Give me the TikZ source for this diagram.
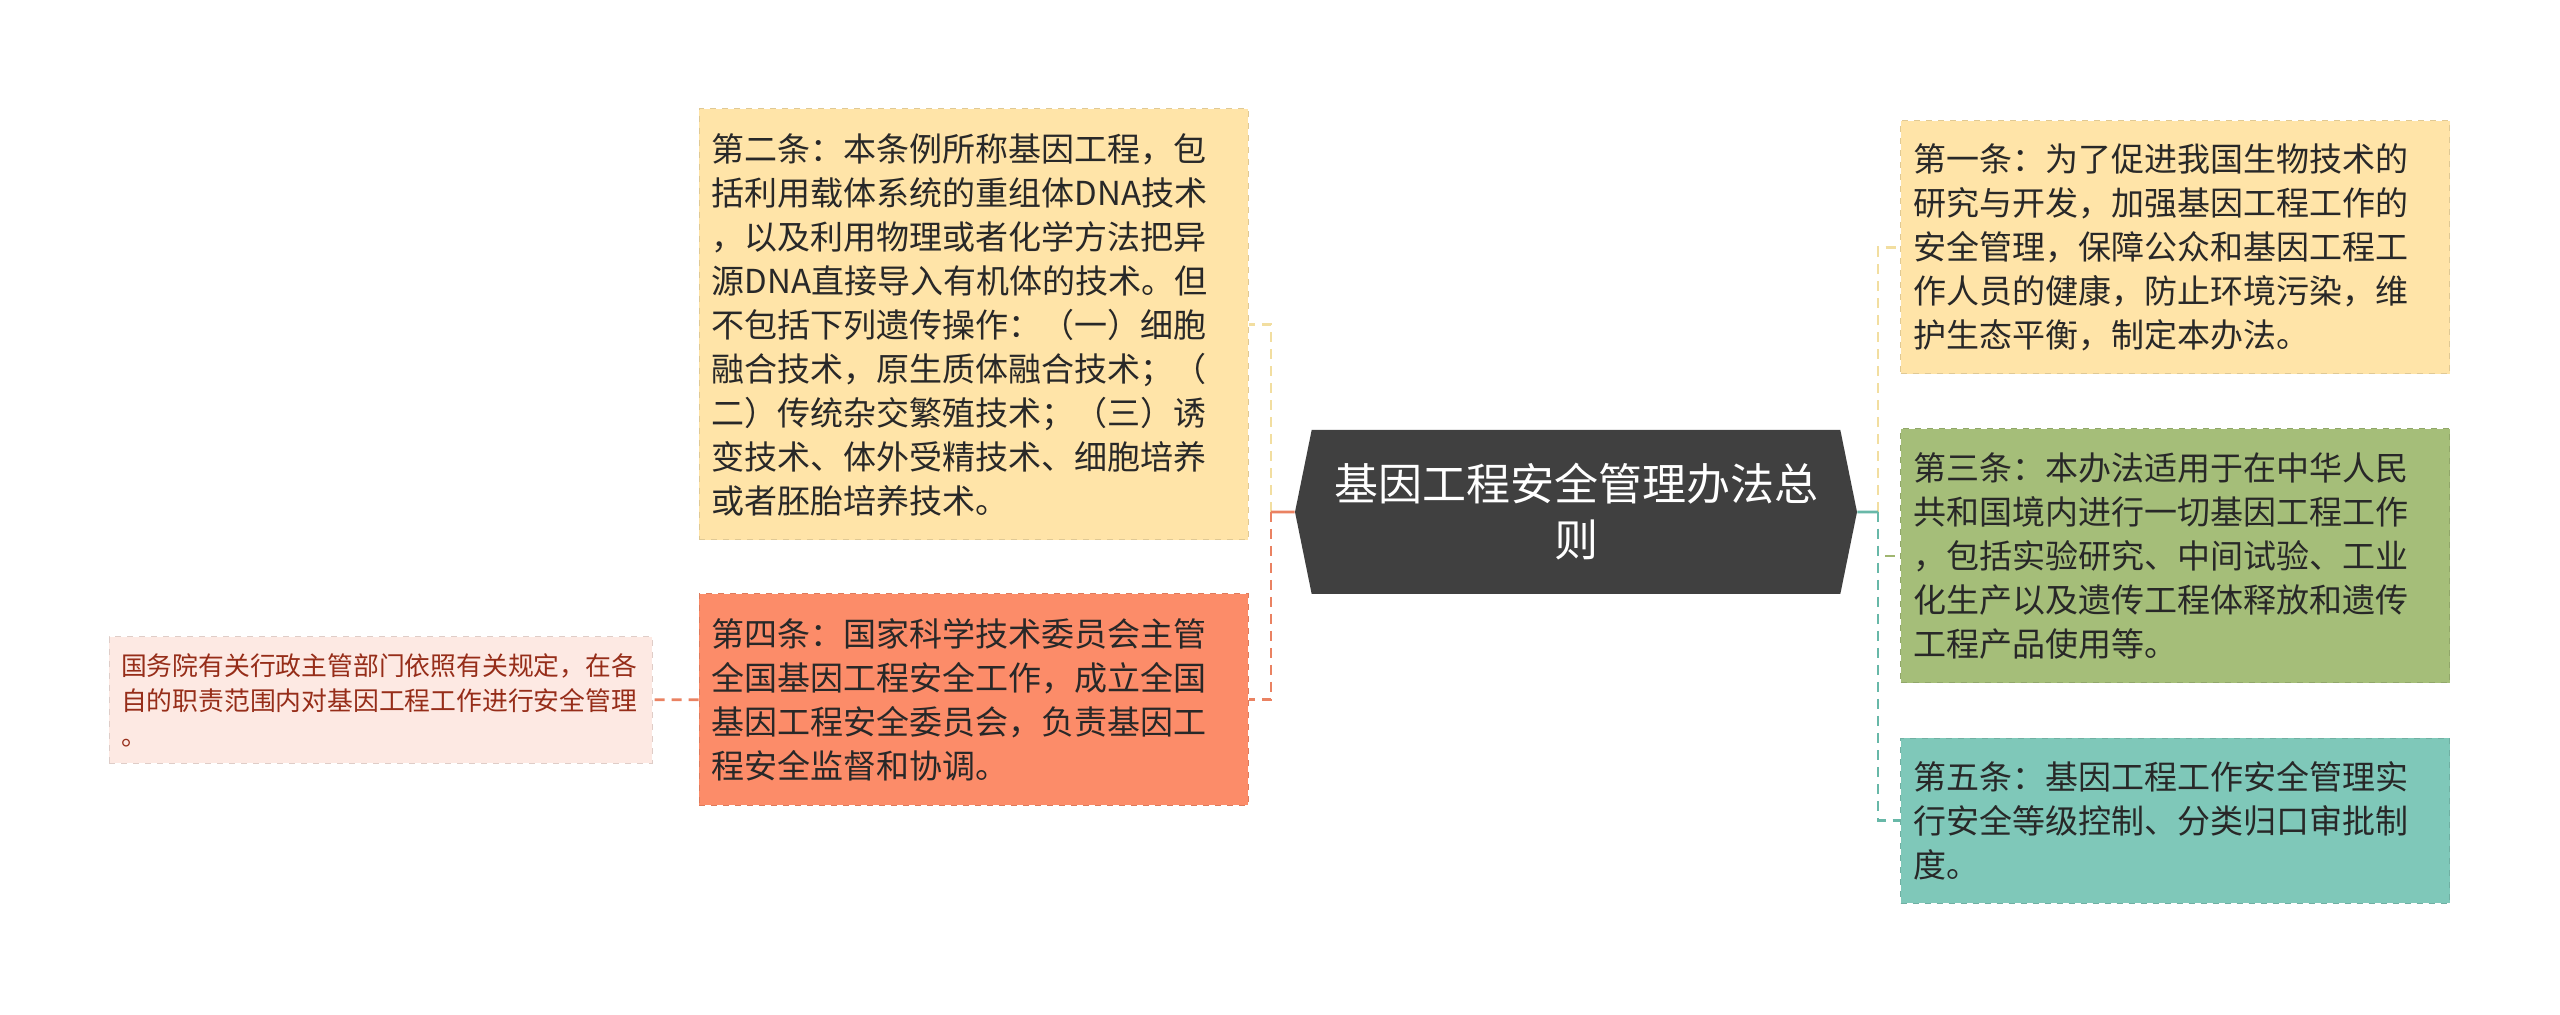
\documentclass[tikz,border=0pt]{standalone}
\usepackage{fontspec}
\setmainfont{Noto Sans CJK SC}
\usetikzlibrary{shapes.symbols}

\definecolor{rootgray}{RGB}{64,64,64}
\definecolor{boxyellow}{RGB}{255,228,168}
\definecolor{boxorange}{RGB}{252,140,105}
\definecolor{boxpink}{RGB}{253,233,227}
\definecolor{boxgreen}{RGB}{165,190,121}
\definecolor{boxteal}{RGB}{127,200,185}
\definecolor{textdark}{RGB}{40,40,40}
\definecolor{textred}{RGB}{150,45,25}
\definecolor{lineyellow}{RGB}{242,222,160}
\definecolor{lineorange}{RGB}{234,130,98}
\definecolor{linegreen}{RGB}{160,182,112}
\definecolor{lineteal}{RGB}{104,184,168}

\begin{document}
\begin{tikzpicture}[x=0.5pt,y=-0.5pt,
  tiao/.style={rectangle, fill=#1, draw=#1!88!black, dashed, line width=0.5pt,
    text=textdark, font=\fontsize{16.5}{22}\selectfont, align=left,
    text width=262pt, inner xsep=6pt, inner ysep=0pt, minimum width=274.5pt},
  lian/.style={draw=#1, line width=1.4pt, dash pattern=on 5pt off 3.5pt}]
\fill[white] (0,0) rectangle (2560,1015);
\node[shape=signal, signal to=west and east, signal pointer angle=157,
  fill=rootgray, text=white, font=\fontsize{22}{28}\selectfont, align=center,
  minimum width=281pt, minimum height=82pt, inner xsep=11pt] (0) at (1576,512)
  {基因工程安全管理办法总\\则};
\node[tiao=boxyellow, minimum height=126.5pt] (1) at (2175,247.5)
  {第一条：为了促进我国生物技术的\\研究与开发，加强基因工程工作的\\安全管理，保障公众和基因工程工\\作人员的健康，防止环境污染，维\\护生态平衡，制定本办法。};
\node[tiao=boxyellow, minimum height=215.5pt] (2) at (973.5,324.5)
  {第二条：本条例所称基因工程，包\\括利用载体系统的重组体DNA技术\\，以及利用物理或者化学方法把异\\源DNA直接导入有机体的技术。但\\不包括下列遗传操作：（一）细胞\\融合技术，原生质体融合技术；（\\二）传统杂交繁殖技术；（三）诱\\变技术、体外受精技术、细胞培养\\或者胚胎培养技术。};
\node[tiao=boxgreen, minimum height=127pt] (3) at (2175,556)
  {第三条：本办法适用于在中华人民\\共和国境内进行一切基因工程工作\\，包括实验研究、中间试验、工业\\化生产以及遗传工程体释放和遗传\\工程产品使用等。};
\node[tiao=boxorange, minimum height=105.5pt] (4) at (973.5,699.5)
  {第四条：国家科学技术委员会主管\\全国基因工程安全工作，成立全国\\基因工程安全委员会，负责基因工\\程安全监督和协调。};
\node[tiao=boxteal, minimum height=82.5pt] (5) at (2175,820.5)
  {第五条：基因工程工作安全管理实\\行安全等级控制、分类归口审批制\\度。};
\node[tiao=boxpink, text=textred, font=\fontsize{12.9}{17.5}\selectfont,
  text width=259.5pt, minimum width=271.5pt, minimum height=63pt] (6) at (380.5,700)
  {国务院有关行政主管部门依照有关规定，在各\\自的职责范围内对基因工程工作进行安全管理\\。};
% elbows
\coordinate (L) at (1271,512);
\coordinate (R) at (1878,512);
\path[draw,lian=lineyellow] (L) |- (2);
\path[draw,lian=lineorange] (L) |- (4);
\path[draw,lian=lineorange] (4) -- (6);
\path[draw,line width=1.4pt,lineorange] (0) -- (L);
\path[draw,lian=lineyellow] (R) |- (1);
\path[draw,lian=linegreen] (R) |- (3);
\path[draw,lian=lineteal] (R) |- (5);
\path[draw,line width=1.4pt,lineteal] (0) -- (R);
\end{tikzpicture}
\end{document}
